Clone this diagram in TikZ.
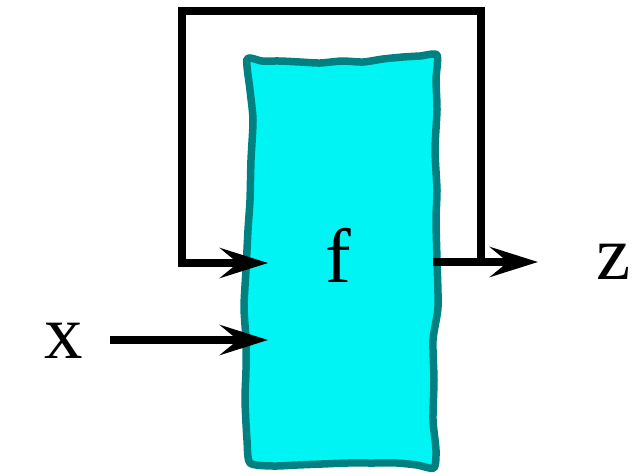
\documentclass[tikz,border=0pt]{standalone}
\usepackage{fontspec}
\setmainfont{Liberation Serif}
\usetikzlibrary{arrows.meta}
\definecolor{boxfill}{RGB}{0,244,244}
\definecolor{boxedge}{RGB}{0,128,128}
\begin{document}
\begin{tikzpicture}[x=1pt,y=-1pt,
  wire/.style={line width=7.5pt,line join=miter,black},
  arr/.style={wire,-{Stealth[length=48pt,width=30pt,inset=18pt]}},
  lbl/.style={inner sep=0pt,anchor=base,font=\fontsize{77}{80}\selectfont}]
\useasboundingbox (0,0) rectangle (632,475);
% wavy box
\draw[boxedge,fill=boxfill,line width=7.5pt,line join=round]
  plot[smooth cycle,tension=0.4] coordinates{
   (247,59) (262,61) (280,61) (300,62) (320,63) (342,61) (363,62) (383,59) (403,57) (420,56) (437,55)
   (436,80) (437,110) (435,150) (437,190) (436,220) (437,260) (438,307) (433,340) (434,380) (433,420) (436,450) (434,468)
   (417,465) (397,463) (372,463) (347,463) (322,464) (297,465) (273,466) (250,463)
   (247,440) (245,400) (246,370) (246,340) (244,307) (246,270) (248,230) (250,200) (251,160) (253,120) (250,90)};
\node[lbl] (f) at (338,282) {f};
\node[lbl] (x) at (64,358) {x};
\node[lbl] (z) at (614,279) {z};
% feedback loop
\coordinate (lb) at (182,263);
\coordinate (lt) at (182,11);
\coordinate (rt) at (481,11);
\coordinate (rb) at (481,262);
\coordinate (fin) at (268,263);
\coordinate (xin) at (268,340);
\coordinate (fout) at (433,262);
\coordinate (zin) at (538,262);
\coordinate (xs) at (110,340);
\draw[wire] (rb) -- (rt) -- (lt) -- (lb);
\draw[arr] ([xshift=-3.75pt]lb) -- (fin);
\draw[arr] (xs) -- (xin);
\draw[arr] (fout) -- (zin);
\end{tikzpicture}
\end{document}
